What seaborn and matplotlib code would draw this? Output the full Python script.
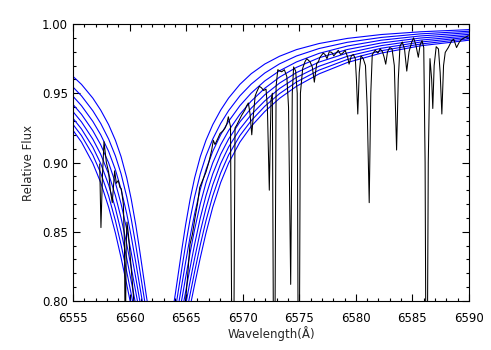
import numpy as np
import pandas as pd
import matplotlib
matplotlib.use("Agg")
import matplotlib.pyplot as plt
import seaborn as sns
from matplotlib.ticker import MultipleLocator, FormatStrFormatter

sns.set_style("ticks")
plt.rcParams['font.family'] = ['DejaVu Sans']

wave = [6557.36, 6557.47, 6557.60, 6557.74, 6557.95, 6558.15, 6558.30, 6558.47, 6558.68, 6558.83,
        6559.00, 6559.15, 6559.27, 6559.45, 6559.55, 6559.62, 6559.70, 6559.77, 6559.90, 6560.10,
        6560.30, 6560.50, 6561.50, 6562.80, 6564.00, 6564.70, 6565.00, 6565.15, 6565.34, 6565.55,
        6565.78, 6566.00, 6566.20, 6566.50, 6566.75, 6567.00, 6567.26, 6567.40, 6567.55, 6567.84,
        6568.00, 6568.28, 6568.45, 6568.60, 6568.73, 6568.92, 6569.13, 6569.32, 6569.47, 6569.65,
        6569.90, 6570.20, 6570.35, 6570.50, 6570.65, 6570.80, 6570.95, 6571.10, 6571.24, 6571.47,
        6571.65, 6571.85, 6572.06, 6572.18, 6572.35, 6572.50, 6572.62, 6572.78, 6572.95, 6573.10,
        6573.30, 6573.45, 6573.68, 6573.90, 6574.05, 6574.24, 6574.38, 6574.50, 6574.68, 6574.82,
        6574.95, 6575.10, 6575.30, 6575.50, 6575.66, 6575.95, 6576.15, 6576.33, 6576.54, 6576.70,
        6576.83, 6577.12, 6577.27, 6577.45, 6577.65, 6577.87, 6578.05, 6578.25, 6578.45, 6578.65,
        6578.85, 6579.05, 6579.28, 6579.40, 6579.60, 6579.78, 6579.95, 6580.05, 6580.17, 6580.30,
        6580.45, 6580.65, 6580.85, 6581.00, 6581.18, 6581.32, 6581.45, 6581.70, 6581.95, 6582.15,
        6582.35, 6582.50, 6582.64, 6582.80, 6583.00, 6583.20, 6583.40, 6583.60, 6583.75, 6583.90,
        6584.10, 6584.30, 6584.50, 6584.70, 6584.94, 6585.10, 6585.30, 6585.52, 6585.68, 6585.85,
        6586.00, 6586.12, 6586.25, 6586.40, 6586.55, 6586.70, 6586.80, 6586.92, 6587.10, 6587.30,
        6587.45, 6587.60, 6587.75, 6587.90, 6588.17, 6588.47, 6588.65, 6588.90, 6589.15, 6589.36,
        6589.60, 6589.94]
flux = [0.899, 0.853, 0.890, 0.915, 0.900, 0.893, 0.880, 0.871, 0.894, 0.885,
        0.887, 0.882, 0.881, 0.870, 0.840, 0.760, 0.840, 0.857, 0.848, 0.828,
        0.808, 0.785, 0.700, 0.650, 0.700, 0.780, 0.805, 0.820, 0.841, 0.848,
        0.860, 0.870, 0.882, 0.888, 0.893, 0.900, 0.909, 0.916, 0.913, 0.918,
        0.921, 0.923, 0.925, 0.928, 0.933, 0.926, 0.650, 0.925, 0.927, 0.930,
        0.934, 0.938, 0.941, 0.943, 0.935, 0.920, 0.935, 0.948, 0.951, 0.955,
        0.954, 0.952, 0.953, 0.940, 0.880, 0.945, 0.950, 0.650, 0.955, 0.967,
        0.966, 0.9655, 0.967, 0.962, 0.940, 0.812, 0.950, 0.969, 0.966, 0.950,
        0.650, 0.950, 0.968, 0.9727, 0.975, 0.9727, 0.969, 0.958, 0.9715, 0.973,
        0.976, 0.979, 0.978, 0.975, 0.980, 0.9795, 0.977, 0.979, 0.981, 0.978,
        0.979, 0.981, 0.976, 0.971, 0.977, 0.978, 0.975, 0.960, 0.935, 0.965,
        0.977, 0.975, 0.970, 0.940, 0.871, 0.950, 0.978, 0.981, 0.979, 0.982,
        0.980, 0.976, 0.971, 0.980, 0.983, 0.982, 0.970, 0.909, 0.960, 0.984,
        0.987, 0.982, 0.966, 0.980, 0.987, 0.990, 0.985, 0.976, 0.985, 0.988,
        0.983, 0.900, 0.650, 0.900, 0.975, 0.960, 0.939, 0.970, 0.9836, 0.982,
        0.965, 0.935, 0.970, 0.9795, 0.983, 0.988, 0.989, 0.983, 0.987, 0.989,
        0.990, 0.9915]

# ---- model H-alpha profiles (symmetric about line centre) ----
line_center = 6562.75
model_offset = [0, 0.6, 1.0, 1.3, 1.6, 1.9, 2.2, 2.6, 3.0, 3.5, 4.0, 4.6, 5.3, 6.0,
                7.0, 8.0, 9.2, 10.5, 12, 14, 16.5, 19.5, 23, 28]
model_flux = [
    [0.7627, 0.7731, 0.7897, 0.8054, 0.8222, 0.8389, 0.8548, 0.8734, 0.8889, 0.9042, 0.9160, 0.9273,
     0.9378, 0.9465, 0.9564, 0.9641, 0.9711, 0.9767, 0.9815, 0.9859, 0.9896, 0.9924, 0.9944, 0.9962],
    [0.7573, 0.7661, 0.7804, 0.7942, 0.8094, 0.8251, 0.8403, 0.8591, 0.8752, 0.8918, 0.9047, 0.9169,
     0.9282, 0.9374, 0.9481, 0.9566, 0.9646, 0.9712, 0.9769, 0.9823, 0.9868, 0.9903, 0.9929, 0.9951],
    [0.7524, 0.7600, 0.7725, 0.7848, 0.7986, 0.8132, 0.8278, 0.8464, 0.8630, 0.8806, 0.8947, 0.9080,
     0.9200, 0.9297, 0.9410, 0.9501, 0.9589, 0.9662, 0.9726, 0.9788, 0.9841, 0.9883, 0.9914, 0.9941],
    [0.7476, 0.7543, 0.7654, 0.7764, 0.7891, 0.8027, 0.8167, 0.8348, 0.8517, 0.8701, 0.8853, 0.8997,
     0.9128, 0.9230, 0.9348, 0.9443, 0.9536, 0.9616, 0.9687, 0.9756, 0.9816, 0.9863, 0.9899, 0.9930],
    [0.7430, 0.7489, 0.7589, 0.7689, 0.7805, 0.7932, 0.8065, 0.8241, 0.8410, 0.8599, 0.8760, 0.8917,
     0.9059, 0.9169, 0.9293, 0.9392, 0.9489, 0.9573, 0.9649, 0.9725, 0.9791, 0.9844, 0.9884, 0.9920],
    [0.7385, 0.7438, 0.7528, 0.7619, 0.7727, 0.7845, 0.7971, 0.8142, 0.8308, 0.8501, 0.8669, 0.8838,
     0.8992, 0.9111, 0.9242, 0.9345, 0.9445, 0.9534, 0.9614, 0.9695, 0.9767, 0.9825, 0.9870, 0.9910],
    [0.7340, 0.7388, 0.7470, 0.7554, 0.7654, 0.7765, 0.7884, 0.8048, 0.8211, 0.8405, 0.8579, 0.8758,
     0.8924, 0.9054, 0.9194, 0.9302, 0.9406, 0.9497, 0.9581, 0.9667, 0.9744, 0.9807, 0.9856, 0.9900],
    [0.7295, 0.7339, 0.7415, 0.7492, 0.7585, 0.7689, 0.7802, 0.7959, 0.8119, 0.8312, 0.8490, 0.8677,
     0.8855, 0.8995, 0.9147, 0.9261, 0.9368, 0.9463, 0.9550, 0.9640, 0.9722, 0.9790, 0.9843, 0.9890],
]

# build long table for the model curves (blue wing and red wing)
rows = []
off = np.array(model_offset)
for k, fl in enumerate(model_flux):
    fl = np.array(fl)
    lam = np.concatenate([line_center - off[::-1], line_center + off[1:]])
    ff = np.concatenate([fl[::-1], fl[1:]])
    for i, (l, f) in enumerate(zip(lam, ff)):
        rows.append({'model': k, 'order': i, 'wave': l, 'flux': f})
models = pd.DataFrame(rows)
spec = pd.DataFrame({'wave': wave, 'flux': flux})

fig = plt.figure(figsize=(4.91, 3.5), dpi=100)
ax = fig.add_axes([73 / 491, 1 - 301 / 350, 396 / 491, 277 / 350])

sns.lineplot(data=models, x='wave', y='flux', units='model', estimator=None, sort=False,
             color=(0, 0, 1), lw=0.8, ax=ax)
sns.lineplot(data=spec, x='wave', y='flux', estimator=None, sort=False,
             color='black', lw=0.75, ax=ax)

ax.set_xlim(6555, 6590)
ax.set_ylim(0.80, 1.00)
ax.xaxis.set_major_locator(MultipleLocator(5))
ax.xaxis.set_minor_locator(MultipleLocator(1))
ax.yaxis.set_major_locator(MultipleLocator(0.05))
ax.yaxis.set_minor_locator(MultipleLocator(0.01))
ax.yaxis.set_major_formatter(FormatStrFormatter('%.2f'))
ax.tick_params(which='both', direction='in', top=True, right=True, width=0.8,
               labelsize=8.5, colors='black')
ax.tick_params(which='major', length=5)
ax.tick_params(which='minor', length=2.5)
ax.tick_params(axis='x', pad=8)
ax.tick_params(axis='y', pad=3.5)
for sp in ax.spines.values():
    sp.set_linewidth(0.8)
    sp.set_color('black')
ax.set_xlabel('Wavelength(Å)', fontsize=8.5, labelpad=0.5)
ax.set_ylabel('Relative Flux', fontsize=8.5, labelpad=5)

fig.savefig('out.png', dpi=100)
